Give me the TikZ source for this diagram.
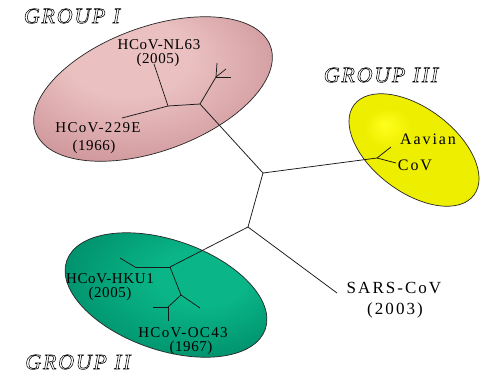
\documentclass[tikz,border=0pt]{standalone}
\usepackage{fontspec}
\setmainfont{Liberation Serif}
\newfontfamily\labfont[LetterSpace=4]{Liberation Serif}
\newfontfamily\widefont[LetterSpace=9]{Liberation Serif}
\newfontfamily\bigfont[LetterSpace=12]{Liberation Serif}
\newfontfamily\grpfont[LetterSpace=8]{Liberation Serif}
\newcommand{\outlinetext}[1]{\special{pdf:code 1 Tr 0.55 w}#1\special{pdf:code 0 Tr}}
\definecolor{pinkhi}{RGB}{234,192,192}
\definecolor{pinkmid}{RGB}{208,152,156}
\definecolor{pinkdk}{RGB}{138,90,96}
\definecolor{yelhi}{RGB}{255,255,30}
\definecolor{yelmid}{RGB}{238,238,0}
\definecolor{yeldk}{RGB}{160,160,0}
\definecolor{grnhi}{RGB}{10,182,136}
\definecolor{grnmid}{RGB}{0,145,108}
\definecolor{grndk}{RGB}{0,86,66}
\pgfdeclareradialshading{pinkshade}{\pgfpoint{-6bp}{12bp}}{color(0bp)=(pinkhi); color(12bp)=(pinkhi); color(30bp)=(pinkmid); color(44bp)=(pinkdk); color(60bp)=(pinkdk)}
\pgfdeclareradialshading{yelshade}{\pgfpoint{-10bp}{10bp}}{color(0bp)=(yelhi); color(8bp)=(yelmid); color(32bp)=(yelmid); color(46bp)=(yeldk); color(60bp)=(yeldk)}
\pgfdeclareradialshading{grnshade}{\pgfpoint{10bp}{6bp}}{color(0bp)=(grnhi); color(10bp)=(grnhi); color(30bp)=(grnmid); color(46bp)=(grndk); color(60bp)=(grndk)}
\tikzset{
  blob/.style={draw=black!85, line width=0.7pt},
  branch/.style={draw=black!90, line width=0.75pt},
  lab/.style={inner sep=0pt, font=\labfont\fontsize{15}{16}\selectfont, text=black},
  widelab/.style={inner sep=0pt, font=\widefont\fontsize{15}{16}\selectfont, text=black},
  biglab/.style={inner sep=0pt, font=\bigfont\fontsize{17}{18}\selectfont, text=black},
  midlab/.style={inner sep=0pt, font=\bigfont\fontsize{16}{17}\selectfont, text=black},
  grp/.style={inner sep=0pt, font=\grpfont\itshape\fontsize{22}{24}\selectfont, text=black},
}
\begin{document}
\begin{tikzpicture}[x=1pt,y=-1pt]
\useasboundingbox (0,0) rectangle (487,376);
\fill[white] (0,0) rectangle (487,376);
% ellipses
\shade[blob, shading=pinkshade, rotate around={20:(153,89)}] (153,89) ellipse (125pt and 62pt);
\shade[blob, shading=yelshade, rotate around={-37:(414,150)}] (414,150) ellipse (75pt and 42pt);
\shade[blob, shading=grnshade, rotate around={-19:(166,295)}] (166,295) ellipse (105pt and 55pt);
% tree nodes
\coordinate (J1) at (263,173);
\coordinate (J2) at (248,227);
\coordinate (A) at (200,104);
\coordinate (B) at (168,106);
\coordinate (tNL) at (154,64);
\coordinate (t229) at (122,118);
\coordinate (C) at (216,77);
\coordinate (c1) at (217,63);
\coordinate (c2) at (231,77);
\coordinate (c3) at (226,69);
\coordinate (Y1) at (377,158);
\coordinate (y1) at (391,147);
\coordinate (y2) at (396,163);
\coordinate (G1) at (170,267);
\coordinate (G2) at (135,267);
\coordinate (g1) at (120,258);
\coordinate (G3) at (181,295);
\coordinate (g3) at (200,308);
\coordinate (G4) at (168,307);
\coordinate (g4a) at (153,307);
\coordinate (g4b) at (168,321);
\coordinate (tSARS) at (337,293);
% branches
\draw[branch] (J1) -- (J2);
\draw[branch] (J1) -- (A);
\draw[branch] (A) -- (B);
\draw[branch] (B) -- (tNL);
\draw[branch] (B) -- (t229);
\draw[branch] (A) -- (C);
\draw[branch] (C) -- (c1);
\draw[branch] (C) -- (c2);
\draw[branch] (C) -- (c3);
\draw[branch] (J1) -- (Y1);
\draw[branch] (Y1) -- (y1);
\draw[branch] (Y1) -- (y2);
\draw[branch] (J2) -- (G1);
\draw[branch] (G1) -- (G2);
\draw[branch] (G2) -- (g1);
\draw[branch] (G1) -- (G3);
\draw[branch] (G3) -- (g3);
\draw[branch] (G3) -- (G4);
\draw[branch] (G4) -- (g4a);
\draw[branch] (G4) -- (g4b);
\draw[branch] (J2) -- (tSARS);
% labels
\node[lab] (nl63) at (159,45) {HCoV-NL63};
\node[lab] (nl63y) at (158,60) {(2005)};
\node[widelab] (e229) at (98,128) {HCoV-229E};
\node[lab] (e229y) at (94,147) {(1966)};
\node[lab] (hku) at (110,279) {HCoV-HKU1};
\node[lab] (hkuy) at (110,294) {(2005)};
\node[widelab] (oc) at (183,333) {HCoV-OC43};
\node[lab] (ocy) at (191,348) {(1967)};
\node[midlab] (av) at (428,139) {Aavian};
\node[midlab] (avc) at (415,165) {CoV};
\node[biglab] (sars) at (394,288) {SARS-CoV};
\node[biglab] (sarsy) at (395,310) {(2003)};
\node[grp] (g1lab) at (72,16) {\outlinetext{GROUP I}};
\node[grp] (g3lab) at (381,75) {\outlinetext{GROUP III}};
\node[grp] (g2lab) at (78,362) {\outlinetext{GROUP II}};
\end{tikzpicture}
\end{document}
